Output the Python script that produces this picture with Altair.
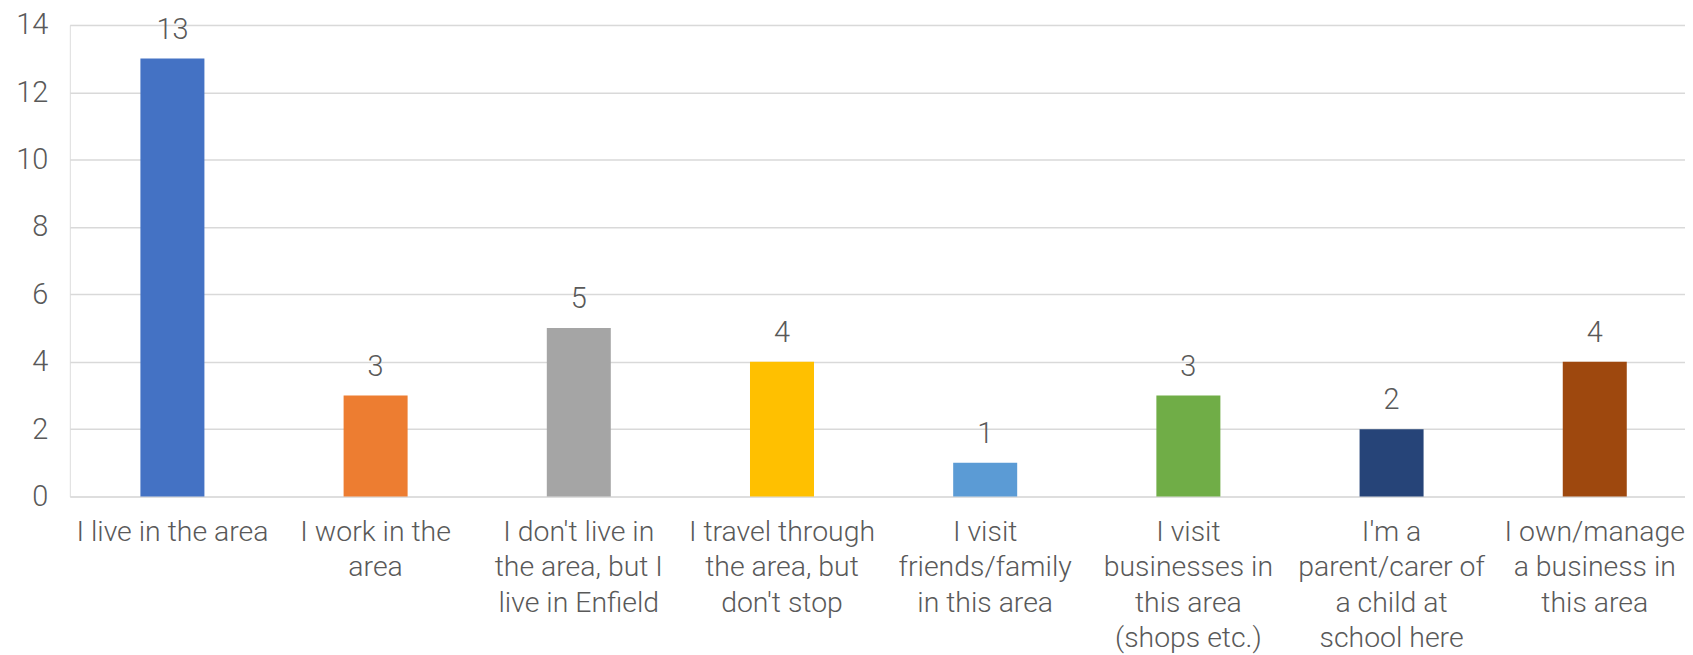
import json
import altair as alt
import pandas as pd

categories = [
    "I live in the area",
    "I work in the area",
    "I don't live in the area, but I live in Enfield",
    "I travel through the area, but don't stop",
    "I visit friends/family in this area",
    "I visit businesses in this area (shops etc.)",
    "I'm a parent/carer of a child at school here",
    "I own/manage a business in this area",
]
wrapped = [
    ["I live in the area"],
    ["I work in the", "area"],
    ["I don't live in", "the area, but I", "live in Enfield"],
    ["I travel through", "the area, but", "don't stop"],
    ["I visit", "friends/family", "in this area"],
    ["I visit", "businesses in", "this area", "(shops etc.)"],
    ["I'm a", "parent/carer of", "a child at", "school here"],
    ["I own/manage", "a business in", "this area"],
]
values = [13, 3, 5, 4, 1, 3, 2, 4]
colors = ["#4472C4", "#ED7D31", "#A5A5A5", "#FFC000", "#5B9BD5", "#70AD47", "#264478", "#9E480E"]

df = pd.DataFrame({"category": categories, "value": values})

label_expr = f"{json.dumps(wrapped)}[indexof({json.dumps(categories)}, datum.value)]"

FONT = "Roboto Light, Roboto"
TXT = "#595959"
FS = 29

x = alt.X(
    "category:N",
    sort=categories,
    scale=alt.Scale(paddingInner=0.685, paddingOuter=0.317, align=0.548),
    axis=alt.Axis(
        title=None, labelAngle=0, labelExpr=label_expr, labelFontSize=28.5,
        labelFont=FONT, labelFontWeight=300, labelColor=TXT, labelLineHeight=35.6,
        labelPadding=21, ticks=False, domain=False, labelBaseline="top",
        labelLimit=400, labelOverlap=False, labelBound=False,
    ),
)
y = alt.Y(
    "value:Q",
    scale=alt.Scale(domain=[0, 14]),
    axis=alt.Axis(
        title=None, values=list(range(0, 15, 2)), labelFontSize=FS, labelFont=FONT,
        labelFontWeight=300, labelColor=TXT, labelPadding=22, ticks=False,
        domain=False, grid=True, gridColor="#D9D9D9", gridWidth=1.5,
    ),
)

bars = alt.Chart(df).mark_bar().encode(
    x=x, y=y,
    color=alt.Color("category:N", scale=alt.Scale(domain=categories, range=colors), legend=None),
)
labels = alt.Chart(df).mark_text(
    baseline="alphabetic", dy=-20, fontSize=FS, font=FONT, fontWeight=300, color=TXT
).encode(x=x, y=y, text="value:Q")

chart = (bars + labels).properties(
    width=1620, height=473,
    padding={"left": 62, "top": 16, "right": 0, "bottom": 158},
    autosize=alt.AutoSizeParams(type="none"),
).configure_view(strokeWidth=0).configure(background="white")

chart.save("out.html", embed_options={"renderer": "svg", "actions": False})
